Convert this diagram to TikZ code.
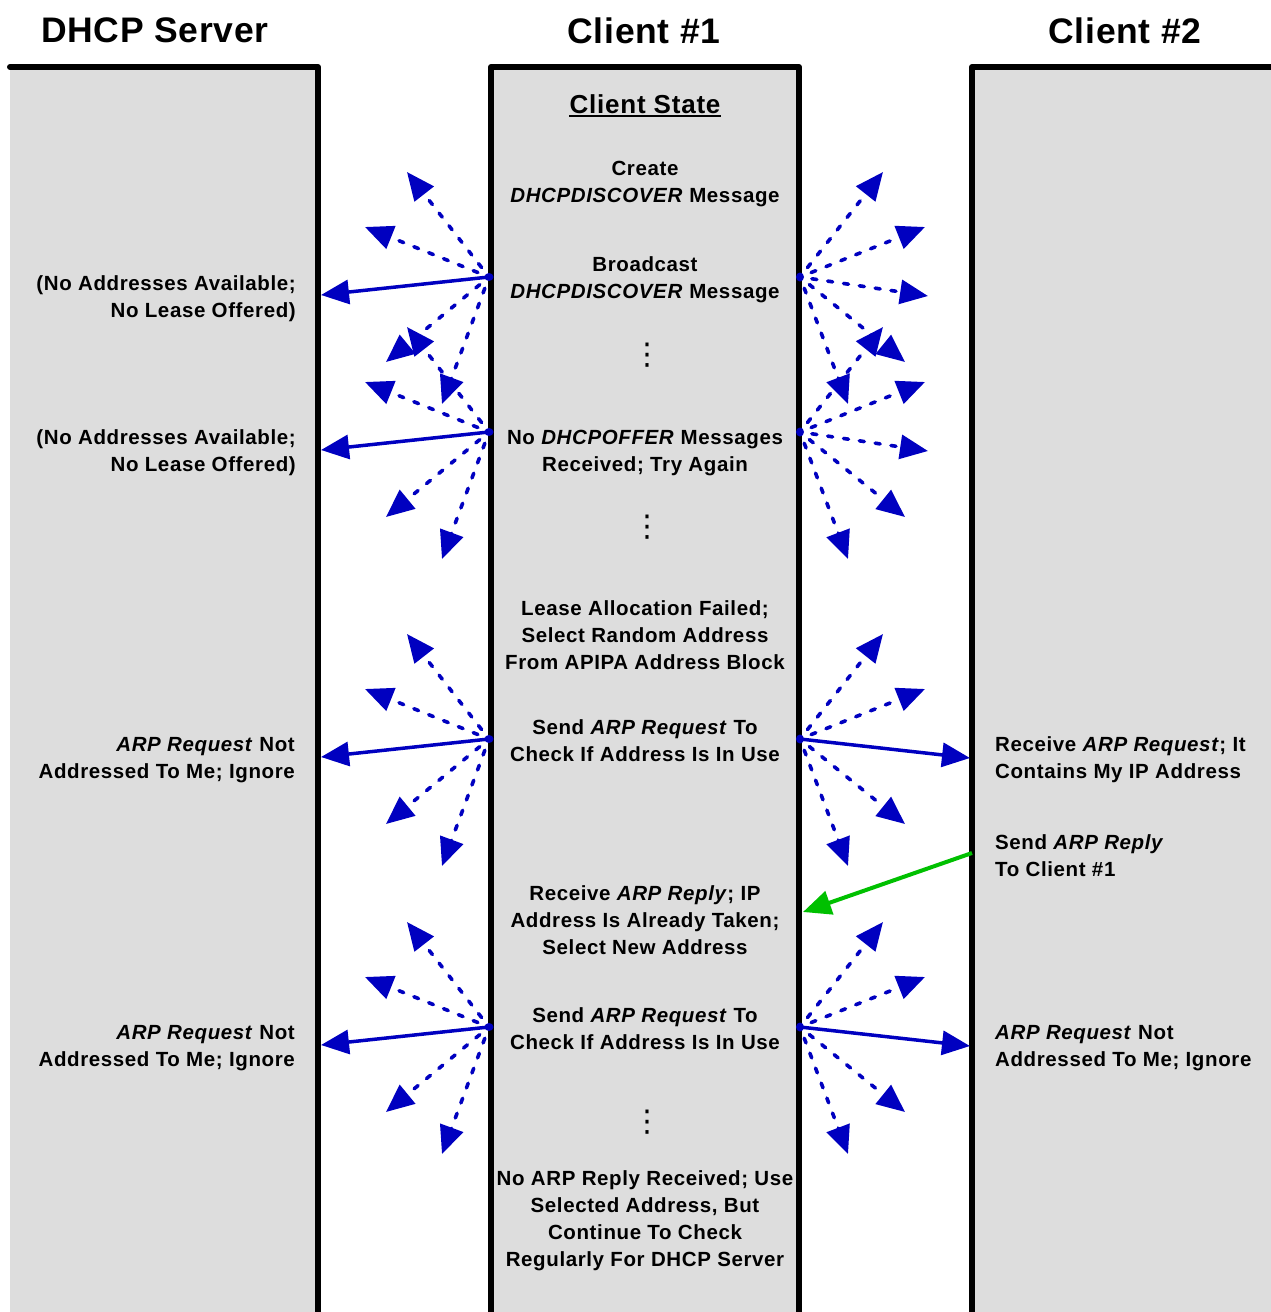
\documentclass[tikz,border=0pt]{standalone}
\usepackage{fontspec}
\setmainfont{Liberation Sans}[LetterSpace=3]
\newfontfamily\titlefont{Liberation Sans}[LetterSpace=2]
\newfontfamily\dotsfont{DejaVu Sans}
\usetikzlibrary{arrows.meta}
\definecolor{colgray}{RGB}{221,221,221}
\definecolor{arrblue}{RGB}{0,0,192}
\definecolor{arrgreen}{RGB}{0,192,0}
\begin{document}
\begin{tikzpicture}[x=1pt,y=-1pt,
  col/.style={fill=colgray},
  border/.style={line width=6pt, line join=round, line cap=round},
  title/.style={font=\titlefont\fontsize{35.5}{40}\selectfont\bfseries, inner sep=0pt},
  statehead/.style={font=\fontsize{26}{30}\selectfont\bfseries, inner sep=0pt},
  body/.style={font=\fontsize{20.5}{27}\selectfont\bfseries, align=center, inner sep=0pt},
  lbody/.style={body, align=right, anchor=east},
  rbody/.style={body, align=left, anchor=west},
  vdotsnode/.style={font=\dotsfont\fontsize{30}{30}\selectfont, inner sep=0pt},
  tipA/.style={-{Triangle[length=28pt,width=24pt]}},
  burst/.style={draw=arrblue, line width=3.6pt, dash pattern=on 5pt off 11pt, line cap=round, shorten <=12pt, tipA},
  msg/.style={draw=arrblue, line width=3.5pt, tipA},
  reply/.style={draw=arrgreen, line width=4pt, tipA},
  ]
\useasboundingbox (0,0) rectangle (1271,1312);

% columns
\fill[col] (10,67) rectangle (318,1312);
\draw[border] (10,67) -- (318,67) -- (318,1318);
\fill[col] (491,67) rectangle (799,1312);
\draw[border] (491,1318) -- (491,67) -- (799,67) -- (799,1318);
\fill[col] (972,67) rectangle (1271,1312);
\draw[border] (972,1318) -- (972,67) -- (1276,67);

% titles
\node[title] (t1) at (155,30.5) {DHCP Server};
\node[title] (t2) at (644,30.5) {Client \#1};
\node[title] (t3) at (1125,30.5) {Client \#2};

% client state column
\node[statehead] (cs) at (645,104) {Client State};
\draw[line width=2.2pt] ([yshift=-2.5pt]cs.south west) -- ([yshift=-2.5pt]cs.south east);

\node[body] (s1) at (645,184) {Create\\\textit{DHCPDISCOVER} Message};
\node[body] (s2) at (645,280) {Broadcast\\\textit{DHCPDISCOVER} Message};
\node[vdotsnode] (d1) at (647,355) {⋮};
\node[body] (s3) at (645,453) {No \textit{DHCPOFFER} Messages\\Received; Try Again};
\node[vdotsnode] (d2) at (647,527) {⋮};
\node[body] (s4) at (645,635) {Lease Allocation Failed;\\Select Random Address\\From APIPA Address Block};
\node[body] (s5) at (645,741) {Send \textit{ARP Request} To\\Check If Address Is In Use};
\node[body] (s6) at (645,920) {Receive \textit{ARP Reply}; IP\\Address Is Already Taken;\\Select New Address};
\node[body] (s7) at (645,1029) {Send \textit{ARP Request} To\\Check If Address Is In Use};
\node[vdotsnode] (d3) at (647,1122) {⋮};
\node[body] (s8) at (645,1221) {No ARP Reply Received; Use\\Selected Address, But\\Continue To Check\\Regularly For DHCP Server};

% server column
\node[lbody] (a1) at (296,299) {(No Addresses Available;\\No Lease Offered)};
\node[lbody] (a2) at (296,453) {(No Addresses Available;\\No Lease Offered)};
\node[lbody] (a3) at (295,760) {\textit{ARP Request} Not\\Addressed To Me; Ignore};
\node[lbody] (a4) at (295,1048) {\textit{ARP Request} Not\\Addressed To Me; Ignore};

% client 2 column
\node[rbody] (b1) at (995,760) {Receive \textit{ARP Request}; It\\Contains My IP Address};
\node[rbody] (b2) at (995,856) {Send \textit{ARP Reply}\\To Client \#1};
\node[rbody] (b3) at (995,1048) {\textit{ARP Request} Not\\Addressed To Me; Ignore};

% left bursts (client 1 -> server side)
\foreach \n/\oy in {1/277,2/432,3/739,4/1027}{
  \coordinate (L\n) at (489,\oy);
  \coordinate (L\n u1) at (407,{\oy-105});
  \coordinate (L\n u2) at (365,{\oy-50});
  \coordinate (L\n s) at (321,{\oy+18});
  \coordinate (L\n d1) at (386,{\oy+85});
  \coordinate (L\n d2) at (442,{\oy+127});
  \draw[burst] (L\n) -- (L\n u1);
  \draw[burst] (L\n) -- (L\n u2);
  \draw[burst] (L\n) -- (L\n d1);
  \draw[burst] (L\n) -- (L\n d2);
  \draw[msg] (L\n) -- (L\n s);
  \fill[arrblue] (L\n) ellipse (4.5 and 4);
}

% right bursts (client 1 -> client 2 side)
\foreach \n/\oy in {1/277,2/432,3/739,4/1027}{
  \coordinate (R\n) at (800,\oy);
  \coordinate (R\n u1) at (883,{\oy-105});
  \coordinate (R\n u2) at (925,{\oy-50});
  \coordinate (R\n d1) at (905,{\oy+85});
  \coordinate (R\n d2) at (848,{\oy+127});
  \draw[burst] (R\n) -- (R\n u1);
  \draw[burst] (R\n) -- (R\n u2);
  \draw[burst] (R\n) -- (R\n d1);
  \draw[burst] (R\n) -- (R\n d2);
}
\foreach \n/\oy in {1/277,2/432}{
  \coordinate (R\n h) at (928,{\oy+19});
  \draw[burst] (R\n) -- (R\n h);
}
\foreach \n/\oy in {3/739,4/1027}{
  \coordinate (R\n s) at (970,{\oy+19});
  \draw[msg] (R\n) -- (R\n s);
}
\foreach \n in {1,2,3,4}{
  \fill[arrblue] (R\n) ellipse (4 and 4.5);
}

% ARP reply from client 2 to client 1
\coordinate (G1) at (972,853);
\coordinate (G2) at (803,912);
\draw[reply] (G1) -- (G2);
\end{tikzpicture}
\end{document}
